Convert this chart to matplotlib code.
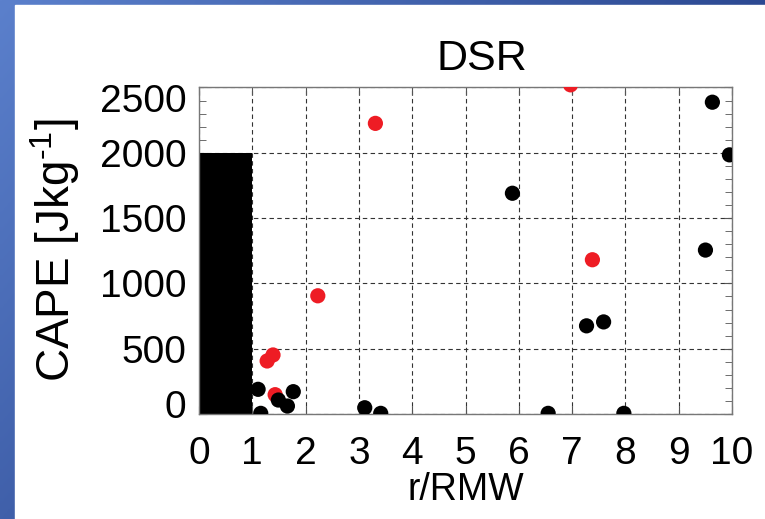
import numpy as np
import matplotlib
matplotlib.use("Agg")
import matplotlib.pyplot as plt
import matplotlib.transforms as mtransforms
from matplotlib.ticker import MultipleLocator

plt.rcParams['font.family'] = ['Liberation Sans', 'DejaVu Sans']
plt.rcParams['mathtext.fontset'] = 'custom'
plt.rcParams['mathtext.rm'] = 'Liberation Sans'

# -------------------------------
# Data
# -------------------------------
bar_x = [0.5]
bar_height = [2000]

red_r = [3.31, 2.23, 1.39, 1.28, 1.43, 6.97, 7.38]
red_cape = [2225, 905, 452, 406, 148, 2520, 1181]

black_r = [1.11, 1.77, 1.49, 1.66, 1.16, 3.11, 3.41,
           9.63, 9.95, 5.88, 9.50, 7.27, 7.59, 6.55, 7.97]
black_cape = [189, 171, 107, 61, 5, 48, 5,
              2387, 1984, 1690, 1255, 675, 705, 5, 5]

xticks = list(range(0, 11))
yticks = [0, 500, 1000, 1500, 2000, 2500]

# -------------------------------
# Figure with blue slide frame
# -------------------------------
fig = plt.figure(figsize=(7.65, 5.19), dpi=100)

bg = fig.add_axes([0, 0, 1, 1], zorder=-2)
GX, GY = np.meshgrid(np.linspace(0, 1, 200), np.linspace(0, 1, 200))
c0 = np.array([0x5b, 0x80, 0xcc]) / 255.0
cx = np.array([0x2c, 0x49, 0x92]) / 255.0
cy = np.array([0x40, 0x60, 0xaa]) / 255.0
img = c0 + (cx - c0) * GX[..., None] + (cy - c0) * GY[..., None]
bg.imshow(np.clip(img, 0, 1), extent=[0, 1, 0, 1], origin='upper', aspect='auto')
bg.add_patch(plt.Rectangle((15 / 765, 0), 1, 1 - 5 / 519, color='white'))
bg.set_xlim(0, 1)
bg.set_ylim(0, 1)
bg.axis('off')

ax = fig.add_axes([0.260, 0.2023, 0.697, 0.6292])

ax.bar(bar_x, bar_height, width=1, color='black', zorder=2)
ax.scatter(red_r, red_cape, s=120, color='#ee1c24', edgecolors='none', zorder=3)
ax.scatter(black_r, black_cape, s=120, color='black', edgecolors='none', zorder=4)

ax.set_xlim(0, 10)
ax.set_ylim(0, 2500)
ax.set_xticks(xticks)
ax.set_yticks(yticks)
ax.yaxis.set_minor_locator(MultipleLocator(100))
ax.grid(True, which='major', linestyle=(0, (4, 3)), color='#333333', linewidth=0.8)
ax.set_axisbelow(True)
ax.tick_params(which='both', direction='in', right=True, top=True,
               labelsize=28, length=6, color='#555555')
ax.tick_params(axis='y', pad=9)
ax.tick_params(axis='x', pad=16)
ax.tick_params(which='minor', length=5)
for s in ax.spines.values():
    s.set_color('#777777')
    s.set_linewidth(1.0)

# end labels on the y axis sit inside the range, as in the original
fig.canvas.draw()
ylabels = ax.get_yticklabels()
ylabels[0].set_transform(ylabels[0].get_transform() +
                         mtransforms.ScaledTranslation(0, 10 / 100, fig.dpi_scale_trans))
ylabels[-1].set_transform(ylabels[-1].get_transform() +
                          mtransforms.ScaledTranslation(0, -11 / 100, fig.dpi_scale_trans))

ax.text(0.53, 1.054, 'DSR', transform=ax.transAxes, ha='center', va='baseline',
        fontsize=31)
ax.set_xlabel('r/RMW', fontsize=27, labelpad=0)
ax.set_ylabel('CAPE [Jkg$^{\\text{-}1}$]', fontsize=33, labelpad=13)

fig.savefig('out.png', dpi=100)
